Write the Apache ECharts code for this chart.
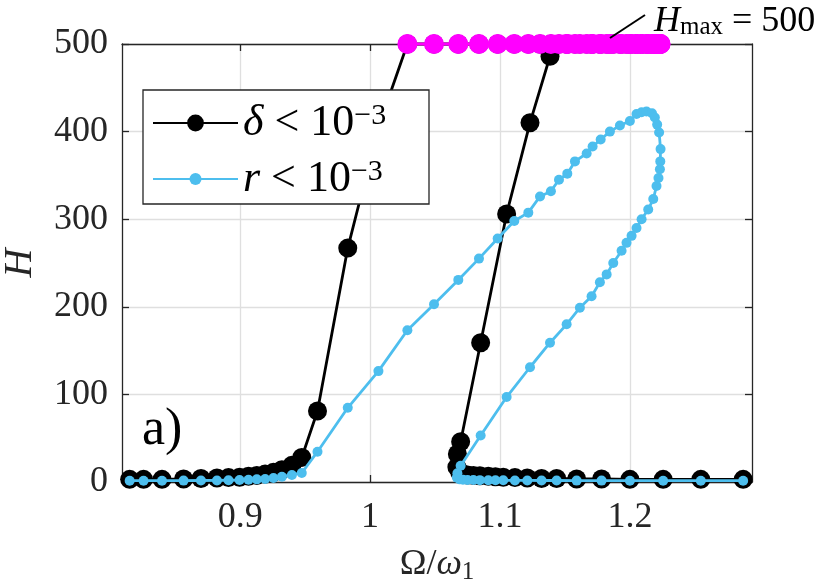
<!DOCTYPE html>
<html>
<head>
<meta charset="utf-8">
<script src="https://cdn.jsdelivr.net/npm/echarts@6/dist/echarts.min.js"></script>
<style>
html, body { margin: 0; padding: 0; background: #fff; }
#main { width: 830px; height: 587px; }
</style>
</head>
<body>
<div id="main"></div>
<script>
// continuation path in Omega/omega_1 (left low branch, upper branch, fold back, right low branch)
var omega = [
    0.8149, 0.8256, 0.8398, 0.8564, 0.8698, 0.8821, 0.891, 0.8995, 0.9064, 0.9128,
    0.9192, 0.9256, 0.9321, 0.9398, 0.9474,
    0.9595, 0.9828, 1.0064, 1.0287, 1.0492, 1.0679, 1.0838, 1.0982, 1.111, 1.1218,
    1.1308, 1.1392, 1.1454, 1.1518, 1.1577, 1.1667, 1.1713, 1.1775, 1.1846, 1.1923,
    1.2, 1.2051, 1.209, 1.2128, 1.217, 1.2192, 1.221, 1.2225,
    1.2236, 1.2234, 1.2231, 1.222, 1.2205, 1.218, 1.2141, 1.209, 1.2051, 1.2013,
    1.1974, 1.1936, 1.1872, 1.1821, 1.1769, 1.1705, 1.1615, 1.1513, 1.1385, 1.1231,
    1.1051, 1.0851, 1.0697, 1.0672, 1.0668,
    1.069, 1.0715, 1.075, 1.0795, 1.0845, 1.091, 1.0965, 1.1025, 1.1115, 1.121,
    1.132, 1.1436, 1.159, 1.1782, 1.2, 1.2256, 1.2546, 1.2872
];
// H for delta < 1e-3 (500 = H_max reached)
var hDelta = [
    3, 3, 3, 3.5, 4, 4.5, 5, 5.5, 6.5, 7.5,
    9, 11, 14, 19, 28,
    81, 267, 405, 500, 500, 500, 500, 500, 500, 500,
    500, 500, 500, 500, 500, 500, 500, 500, 500, 500,
    500, 500, 500, 500, 500, 500, 500, 500,
    500, 500, 500, 500, 500, 500, 500, 500, 500, 500,
    500, 500, 500, 500, 500, 500, 500, 500, 486, 410,
    306, 159, 46, 32, 17,
    11, 9, 8, 7.5, 7, 6.5, 6, 5.5, 5, 4.5,
    4, 4, 3.5, 3.5, 3, 3, 3, 3
];
// H for r < 1e-3
var hRes = [
    1.5, 1.5, 1.5, 1.6, 1.7, 1.8, 2, 2.2, 2.5, 3,
    3.5, 4.5, 6, 8, 10.3,
    34.6, 84.7, 126.6, 173.3, 203, 230.7, 255, 278, 298, 307.5,
    326, 332, 345, 352, 366, 375, 383, 391, 400, 407,
    412, 420, 422, 423, 421, 416, 408, 399,
    380, 366, 357, 347, 338, 323, 311, 300, 290, 281,
    273, 264, 250, 237, 228, 212, 199, 180, 159, 131,
    97, 53, 18.6, 10, 5,
    3, 2.5, 2.3, 2.2, 2.1, 2, 2, 1.9, 1.8, 1.8,
    1.7, 1.7, 1.6, 1.6, 1.5, 1.5, 1.5, 1.5
];
var xTicks = [0.9, 1, 1.1, 1.2];
var hMax = 500;

var font = 'Liberation Serif';
var axisColor = '#262626';
var gridColor = '#dfdfdf';
var blue = '#4DBEEE';

var deltaPts = omega.map(function (w, i) { return [w, hDelta[i]]; });
var resPts = omega.map(function (w, i) { return [w, hRes[i]]; });
var maxPts = deltaPts.filter(function (p) { return p[1] >= hMax; });

var legendRich = {
    i: { fontFamily: font, fontSize: 44, fontStyle: 'italic', lineHeight: 44, color: '#000' },
    n: { fontFamily: font, fontSize: 44, lineHeight: 44, color: '#000' },
    s: { fontFamily: font, fontSize: 30, lineHeight: 16, verticalAlign: 'top', color: '#000' }
};
function legendText(name) {
    return (name === 'delta' ? '{i|δ}' : '{i|r}') + '{n| < 10}{s|−3}';
}

var myChart = echarts.init(document.getElementById('main'));
myChart.setOption({
    animation: false,
    backgroundColor: '#fff',
    grid: { left: 122, right: 78, top: 44, bottom: 105, containLabel: false, outerBoundsMode: 'none' },
    xAxis: [{
        type: 'value',
        position: 'bottom',
        min: 0.809,
        max: 1.294,
        axisLine: { show: true, onZero: false, lineStyle: { color: axisColor, width: 1.3 } },
        axisTick: { show: true, inside: true, length: 7, customValues: xTicks, lineStyle: { color: axisColor, width: 1.3 } },
        axisLabel: { customValues: xTicks, color: axisColor, fontSize: 36, fontFamily: font, margin: 18,
            formatter: function (v) { return String(v); } },
        splitLine: { show: true, lineStyle: { color: gridColor, width: 1.3 } },
        name: '{n|Ω/}{i|ω}{b|1}',
        nameLocation: 'middle',
        nameGap: 63,
        nameTextStyle: {
            rich: {
                n: { fontFamily: font, fontSize: 36, lineHeight: 40, color: axisColor },
                i: { fontFamily: font, fontSize: 36, fontStyle: 'italic', lineHeight: 40, color: axisColor },
                b: { fontFamily: font, fontSize: 25, lineHeight: 20, verticalAlign: 'bottom', color: axisColor }
            }
        }
    }, {
        type: 'value',
        position: 'top',
        min: 0.809,
        max: 1.294,
        axisLine: { show: true, onZero: false, lineStyle: { color: axisColor, width: 1.3 } },
        axisTick: { show: true, inside: true, length: 7, customValues: xTicks, lineStyle: { color: axisColor, width: 1.3 } },
        axisLabel: { show: false },
        splitLine: { show: false }
    }],
    yAxis: [{
        type: 'value',
        position: 'left',
        min: 0,
        max: 500,
        interval: 100,
        axisLine: { show: true, onZero: false, lineStyle: { color: axisColor, width: 1.3 } },
        axisTick: { show: true, inside: true, length: 7, lineStyle: { color: axisColor, width: 1.3 } },
        axisLabel: { color: axisColor, fontSize: 36, fontFamily: font, margin: 14 },
        splitLine: { show: true, lineStyle: { color: gridColor, width: 1.3 } },
        name: 'H',
        nameLocation: 'middle',
        nameGap: 82,
        nameTextStyle: { fontFamily: font, fontSize: 40, fontStyle: 'italic', color: axisColor }
    }, {
        type: 'value',
        position: 'right',
        min: 0,
        max: 500,
        interval: 100,
        axisLine: { show: true, onZero: false, lineStyle: { color: axisColor, width: 1.3 } },
        axisTick: { show: true, inside: true, length: 7, lineStyle: { color: axisColor, width: 1.3 } },
        axisLabel: { show: false },
        splitLine: { show: false }
    }],
    legend: [{
        data: ['delta'],
        left: 152,
        top: 101,
        padding: 0,
        itemWidth: 85,
        itemHeight: 21,
        selectedMode: false,
        formatter: legendText,
        textStyle: { rich: legendRich },
        z: 20
    }, {
        data: ['r'],
        left: 152,
        top: 157,
        padding: 0,
        itemWidth: 85,
        itemHeight: 15,
        selectedMode: false,
        formatter: legendText,
        textStyle: { rich: legendRich },
        z: 20
    }],
    graphic: [{
        type: 'rect',
        shape: { x: 143, y: 90, width: 286, height: 114 },
        style: { fill: '#fff', stroke: axisColor, lineWidth: 1.3 },
        z: 10
    }, {
        type: 'text',
        style: { text: 'a)', x: 142, y: 430, fill: '#000', fontSize: 52, fontFamily: font, verticalAlign: 'middle' },
        z: 10
    }, {
        type: 'line',
        shape: { x1: 610, y1: 38, x2: 645, y2: 15 },
        style: { stroke: '#000', lineWidth: 2 },
        z: 10
    }, {
        type: 'text',
        style: {
            text: '{i|H}{s|max}{n| = 500}',
            x: 654,
            y: 22,
            verticalAlign: 'middle',
            rich: {
                i: { fontFamily: font, fontSize: 36, fontStyle: 'italic', lineHeight: 36, fill: '#000' },
                s: { fontFamily: font, fontSize: 25, lineHeight: 20, verticalAlign: 'bottom', fill: '#000' },
                n: { fontFamily: font, fontSize: 36, lineHeight: 36, fill: '#000' }
            }
        },
        z: 10
    }],
    series: [{
        name: 'delta',
        type: 'line',
        data: deltaPts,
        symbol: 'circle',
        symbolSize: 19,
        showAllSymbol: true,
        clip: false,
        itemStyle: { color: '#000' },
        lineStyle: { color: '#000', width: 2.8 },
        z: 2
    }, {
        name: 'r',
        type: 'line',
        data: resPts,
        symbol: 'circle',
        symbolSize: 10,
        showAllSymbol: true,
        clip: false,
        itemStyle: { color: blue },
        lineStyle: { color: blue, width: 2.8 },
        z: 3
    }, {
        name: 'Hmax',
        type: 'line',
        data: maxPts,
        symbol: 'circle',
        symbolSize: 20,
        showAllSymbol: true,
        clip: false,
        itemStyle: { color: '#FF00FF' },
        lineStyle: { color: '#FF00FF', width: 3 },
        z: 4
    }]
});
</script>
</body>
</html>
